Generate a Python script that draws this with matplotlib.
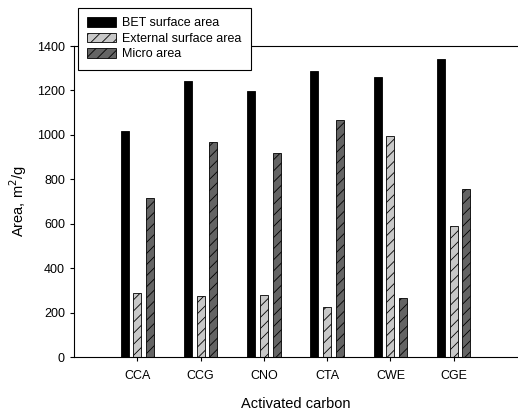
import numpy as np
import matplotlib
matplotlib.use("Agg")
import matplotlib.pyplot as plt

plt.rcParams["font.family"] = ["Liberation Sans", "DejaVu Sans"]
plt.rcParams["hatch.linewidth"] = 0.6

# ── Data ──
carbons = ["CCA", "CCG", "CNO", "CTA", "CWE", "CGE"]
bet_area = [1017, 1243, 1198, 1288, 1260, 1343]
external_area = [290, 273, 278, 225, 995, 588]
micro_area = [718, 968, 920, 1065, 265, 755]

x = np.arange(1, len(carbons) + 1)
w = 0.126
off = 0.2

fig = plt.figure(figsize=(5.18, 4.11), dpi=100)
ax = fig.add_axes([74 / 518, 54 / 411, 443 / 518, 311 / 411])

b1 = ax.bar(x - off, bet_area, w, color="black", edgecolor="black", linewidth=0.6,
            label="BET surface area")
b2 = ax.bar(x, external_area, w, color="#c8c8c8", edgecolor="black", linewidth=0.6,
            hatch="///", label="External surface area")
b3 = ax.bar(x + off, micro_area, w, color="#646464", edgecolor="black", linewidth=0.6,
            hatch="///", label="Micro area")

ax.set_xlim(0, 7)
ax.set_ylim(0, 1400)
ax.set_yticks(range(0, 1401, 200))
ax.set_xticks(x)
ax.set_xticklabels(carbons)
ax.tick_params(labelsize=9, direction="out", length=3, width=0.8)
ax.tick_params(axis="x", pad=6)
ax.spines["right"].set_visible(False)
for s in ["left", "bottom", "top"]:
    ax.spines[s].set_linewidth(0.8)

ax.set_xlabel("Activated carbon", fontsize=10.5, labelpad=11)
ax.set_ylabel("Area, m$^2$/g", fontsize=10.5, labelpad=6)

leg = fig.legend(handles=[b1, b2, b3], loc="upper left",
                 bbox_to_anchor=(78 / 518, 1 - 8 / 411), fontsize=9,
                 fancybox=False, framealpha=1, edgecolor="black",
                 handlelength=2.3, handleheight=0.75, borderpad=0.75,
                 labelspacing=0.28, handletextpad=0.5, borderaxespad=0)
leg.get_frame().set_linewidth(0.8)

fig.savefig("out.png", dpi=100, facecolor="white")
